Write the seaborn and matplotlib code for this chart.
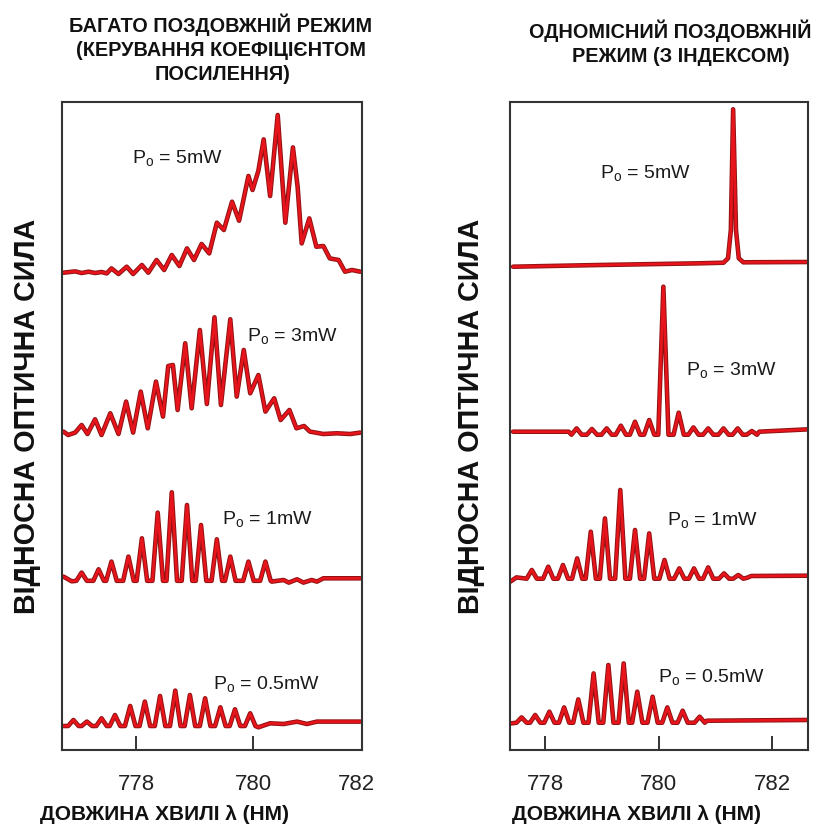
import numpy as np
import pandas as pd
import matplotlib
matplotlib.use("Agg")
import matplotlib.pyplot as plt
import matplotlib.patheffects as pe
import seaborn as sns

# ---------------- data (wavelength in nm, relative intensity in a.u.) ----------------
# Left panel: multi-longitudinal mode (gain guided)
L5_nm = [776.76, 776.96, 777.07, 777.19, 777.30, 777.41, 777.50, 777.58, 777.70, 777.84, 777.95,
         778.10, 778.21, 778.35, 778.48, 778.61, 778.74, 778.87, 778.99, 779.12, 779.25, 779.38,
         779.50, 779.64, 779.76, 779.92, 779.99, 780.09, 780.18, 780.29, 780.42, 780.55, 780.68,
         780.76, 780.83, 780.96, 781.08, 781.20, 781.31, 781.46, 781.57, 781.69, 781.83]
L5_I = [0, 1.3, -0.3, 1, -0.3, 0.7, -0.7, 4.3, -1.3, 6, -1.3,
        7.7, 0, 12.7, 2.7, 17.7, 6.7, 24.3, 12.7, 28.7, 19.3, 50,
        42.7, 71, 52, 96.7, 82.7, 102, 133.3, 76.7, 157.7, 50, 125.3,
        86, 29.3, 54.3, 26, 26.7, 14.3, 12.7, 1, 2.7, 1]

L3_nm = [776.76, 776.84, 776.96, 777.07, 777.17, 777.30, 777.41, 777.56, 777.70, 777.83,
         777.95, 778.08, 778.20, 778.34, 778.46, 778.55, 778.63, 778.71, 778.84, 778.95,
         779.09, 779.21, 779.34, 779.45, 779.61, 779.72, 779.84, 779.95, 780.09, 780.21,
         780.36, 780.47, 780.62, 780.74, 780.87, 780.97, 781.20, 781.43, 781.66, 781.83]
L3_I = [1.7, -1.7, 0.7, 8.3, -0.7, 14, -1.7, 20, -0.7, 31.7,
        0.7, 41.7, 5, 51.7, 16.7, 67.3, 68.3, 23.3, 90, 25,
        103.3, 29.3, 116, 28.3, 114, 36.7, 83.3, 40, 58.3, 21.7,
        35, 13.3, 23.3, 5, 7.3, 1.7, -0.7, 0, -0.7, 0.7]

L1_head_nm, L1_head_I = [776.76, 776.90], [2.7, -2.0]
L1_modes = [777.07, 777.36, 777.58, 777.87, 778.10, 778.37, 778.61, 778.87, 779.11, 779.38,
            779.61, 779.92, 780.21]
L1_heights = [6.7, 10, 17.7, 22.7, 41, 66.7, 87, 74.3, 54.3, 40, 22.7, 17.7, 17.7]
L1_valley = -1.5
L1_tail_nm = [780.32, 780.52, 780.61, 780.75, 780.86, 781.00, 781.09, 781.20, 781.83]
L1_tail_I = [-2.3, -0.7, -3.3, 0, -3.3, -0.7, -2.3, 1, 1]

L05_head_nm, L05_head_I = [776.76], [-2.7]
L05_modes = [776.93, 777.16, 777.41, 777.64, 777.90, 778.15, 778.41, 778.67, 778.92, 779.18,
             779.44, 779.69, 779.95]
L05_heights = [3.3, 1.7, 5, 8.3, 17.3, 21.7, 27.3, 32.7, 28.3, 25, 16, 14, 10]
L05_valley = -2.7
L05_tail_nm = [780.09, 780.29, 780.52, 780.75, 780.92, 781.09, 781.83]
L05_tail_I = [-4, 0, -0.7, 1.7, -0.7, 1.7, 1.7]

# Right panel: single longitudinal mode (index guided)
R5_nm = [777.43, 778.96, 780.73, 781.14, 781.22, 781.27, 781.31, 781.36, 781.41, 781.49, 782.61]
R5_I = [-1.7, 0, 1.7, 2.3, 6.7, 35, 155.7, 35, 6.7, 2.7, 3]

R3_head_nm, R3_head_I = [777.43, 778.41], [0, 0]
R3_modes = [778.55, 778.82, 779.08, 779.33, 779.58, 779.83, 780.08, 780.35, 780.61, 780.87,
            781.14, 781.39, 781.64]
R3_heights = [3.3, 2.7, 3.3, 6, 10, 11.7, 145, 19, 4.3, 3.3, 3.3, 3.3, 0.7]
R3_valley = -3
R3_tail_nm = [781.77, 782.61]
R3_tail_I = [0, 2.3]

R1_head_nm, R1_head_I = [777.38, 777.49], [-5, -0.7]
R1_modes = [777.76, 778.05, 778.31, 778.56, 778.80, 779.05, 779.32, 779.58, 779.83, 780.10,
            780.36, 780.62, 780.87, 781.15, 781.40]
R1_heights = [6.7, 10, 11.7, 18.3, 45, 58.3, 86.7, 46.7, 43.3, 16.7, 8.3, 8.3, 9.3, 3.3, 1.7]
R1_valley = -2
R1_tail_nm = [781.56, 781.63, 782.61]
R1_tail_I = [-1, 0.7, 1]

R05_head_nm, R05_head_I = [777.40], [-2.7]
R05_modes = [777.58, 777.82, 778.07, 778.33, 778.58, 778.85, 779.11, 779.38, 779.62, 779.89,
             780.15, 780.42, 780.72]
R05_heights = [3.3, 5.7, 9, 13.3, 21.3, 47.3, 55.7, 57.3, 29, 24, 13.3, 10, 4]
R05_valley = -2
R05_tail_nm = [780.85, 782.61]
R05_tail_I = [0, 0.7]

power_labels = ["5mW", "3mW", "1mW", "0.5mW"]
left_ticks = [778, 780]
right_ticks = [778, 780, 782]

# ---------------- helpers ----------------
def comb_trace(head_nm, head_I, modes, heights, valley, tail_nm, tail_I, hw=0.09):
    xs, ys = list(head_nm), list(head_I)
    for m, h in zip(modes, heights):
        xs += [m - hw, m, m + hw]
        ys += [valley, h, valley]
    xs += list(tail_nm)
    ys += list(tail_I)
    return np.array(xs), np.array(ys)

sns.set_theme(style="white")
plt.rcParams["font.family"] = ["Liberation Sans", "DejaVu Sans"]
plt.rcParams["mathtext.fontset"] = "custom"
plt.rcParams["mathtext.rm"] = "Liberation Sans"

W, H = 814, 827
fig = plt.figure(figsize=(W / 100, H / 100), dpi=100)
fig.patch.set_facecolor("white")
axL = fig.add_axes([62 / W, 1 - 750 / H, 300 / W, 648 / H])
axR = fig.add_axes([510 / W, 1 - 750 / H, 298 / W, 648 / H])

RED = "#e8141c"
effects = [pe.Stroke(linewidth=3.3, foreground="#8f1212"), pe.Normal()]

def draw(ax, x, I, offset):
    df = pd.DataFrame({"nm": np.asarray(x, float), "p": np.asarray(I, float) + offset})
    sns.lineplot(data=df, x="nm", y="p", ax=ax, sort=False, estimator=None,
                 color=RED, lw=1.9, path_effects=effects)

left_traces = [
    (np.array(L5_nm), np.array(L5_I)),
    (np.array(L3_nm), np.array(L3_I)),
    comb_trace(L1_head_nm, L1_head_I, L1_modes, L1_heights, L1_valley, L1_tail_nm, L1_tail_I),
    comb_trace(L05_head_nm, L05_head_I, L05_modes, L05_heights, L05_valley, L05_tail_nm, L05_tail_I),
]
right_traces = [
    (np.array(R5_nm), np.array(R5_I)),
    comb_trace(R3_head_nm, R3_head_I, R3_modes, R3_heights, R3_valley, R3_tail_nm, R3_tail_I),
    comb_trace(R1_head_nm, R1_head_I, R1_modes, R1_heights, R1_valley, R1_tail_nm, R1_tail_I),
    comb_trace(R05_head_nm, R05_head_I, R05_modes, R05_heights, R05_valley, R05_tail_nm, R05_tail_I),
]
left_offsets = [477.3, 316.7, 170.7, 26.7]
right_offsets = [485.0, 318.3, 173.3, 29.3]
left_label_pos = [(777.93, 586), (779.90, 408), (779.47, 225), (779.32, 60)]
right_label_pos = [(778.96, 571), (780.48, 374), (780.145, 224), (779.99, 67)]

for (x, I), off in zip(left_traces, left_offsets):
    draw(axL, x, I, off)
for (x, I), off in zip(right_traces, right_offsets):
    draw(axR, x, I, off)

axL.set_xlim(776.735, 781.86)
axR.set_xlim(777.376, 782.63)
for ax in (axL, axR):
    ax.set_ylim(0, 648)
    ax.set_yticks([])
    ax.set_xlabel("")
    ax.set_ylabel("")
    for s in ax.spines.values():
        s.set_visible(True)
        s.set_color("#333333")
        s.set_linewidth(1.5)
    ax.tick_params(axis="x", direction="in", length=10, width=1.4, color="#333333",
                   pad=17, labelsize=16, labelcolor="#222222", bottom=True, top=False)
axL.set_xticks(left_ticks)
axL.set_xticklabels([str(t) for t in left_ticks])
axR.set_xticks(right_ticks)
axR.set_xticklabels([str(t) for t in right_ticks])
# the 782 label of the left panel sits at the panel's right edge
axL.annotate("782", xy=(781.77, 0), xycoords=("data", "axes fraction"), xytext=(0, -17),
             textcoords="offset points", ha="center", va="top", fontsize=16, color="#222222",
             annotation_clip=False)

for ax, pos in ((axL, left_label_pos), (axR, right_label_pos)):
    for lab, (x, y) in zip(power_labels, pos):
        ax.text(x, y, r"P$_{\mathregular{o}}$ = " + lab, fontsize=14, color="#1a1a1a",
                ha="left", va="baseline")

# titles
def ftext(px, py, s, **kw):
    fig.text(px / W, 1 - py / H, s, **kw)

tkw = dict(fontsize=14.3, fontweight="bold", color="#111111", ha="center", va="baseline")
ftext(221, 32, "БАГАТО ПОЗДОВЖНІЙ РЕЖИМ", **tkw)
ftext(221, 56, "(КЕРУВАННЯ КОЕФІЦІЄНТОМ", **tkw)
ftext(223, 80, "ПОСИЛЕННЯ)", **tkw)
ftext(670, 38, "ОДНОМІСНИЙ ПОЗДОВЖНІЙ", **tkw)
ftext(681, 62, "РЕЖИМ (З ІНДЕКСОМ)", **tkw)

ykw = dict(fontsize=20.7, fontweight="bold", color="#111111", ha="center", va="center", rotation=90)
ftext(27, 416, "ВІДНОСНА ОПТИЧНА СИЛА", **ykw)
ftext(471, 416, "ВІДНОСНА ОПТИЧНА СИЛА", **ykw)

xkw = dict(fontsize=15, fontweight="bold", color="#111111", ha="center", va="center")
ftext(165, 815, "ДОВЖИНА ХВИЛІ λ (НМ)", **xkw)
ftext(636, 815, "ДОВЖИНА ХВИЛІ λ (НМ)", **xkw)

fig.savefig("out.png", dpi=100, facecolor="white")
